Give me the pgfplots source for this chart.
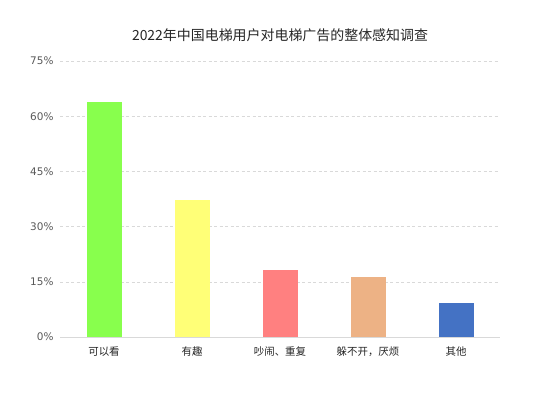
\documentclass[border=0pt]{standalone}
\usepackage{pgfplots}
\pgfplotsset{compat=1.18}
\usepackage{fontspec}
\setmainfont{DejaVu Sans}
\newfontfamily\cjk{Noto Sans CJK SC}
\definecolor{cg}{HTML}{88FF4D}
\definecolor{cy}{HTML}{FFFF77}
\definecolor{cr}{HTML}{FF8080}
\definecolor{co}{HTML}{EDB285}
\definecolor{cb}{HTML}{4472C4}
\definecolor{gridc}{HTML}{D9D9D9}
\begin{document}
\begin{tikzpicture}[x=1bp,y=1bp]
\useasboundingbox (0,0) rectangle (553,393);
\begin{axis}[
  at={(60bp,56bp)}, anchor=south west,
  scale only axis, width=440bp, height=276bp,
  xmin=-0.5, xmax=4.5, ymin=0, ymax=75,
  axis line style={draw=none},
  ytick={0,15,30,45,60,75},
  yticklabel={\pgfmathprintnumber{\tick}\%},
  /pgf/number format/assume math mode=true,
  yticklabel style={font=\fontsize{10.5}{12}\selectfont, text=black!65, xshift=-3bp},
  xtick={0,1,2,3,4},
  xticklabels={可以看,有趣,吵闹、重复,躲不开，厌烦,其他},
  xticklabel style={font=\cjk\fontsize{10.5}{12}\selectfont, text=black!85, yshift=-6bp},
  major tick length=0pt,
  ymajorgrids, grid style={gridc, dash pattern=on 3bp off 2.5bp, line width=0.6pt},
  title={\cjk\fontsize{14}{16}\selectfont 2022年中国电梯用户对电梯广告的整体感知调查},
  title style={at={(0.5,1)}, yshift=10bp, text=black!85},
  bar width=35bp,
  clip=false,
]
\draw[gridc, line width=0.8pt] (axis cs:-0.5,0) -- (axis cs:4.5,0);
\addplot[ybar, fill=cg, draw=none, bar shift=0pt] coordinates {(0,63.9)};
\addplot[ybar, fill=cy, draw=none, bar shift=0pt] coordinates {(1,37.2)};
\addplot[ybar, fill=cr, draw=none, bar shift=0pt] coordinates {(2,18.2)};
\addplot[ybar, fill=co, draw=none, bar shift=0pt] coordinates {(3,16.3)};
\addplot[ybar, fill=cb, draw=none, bar shift=0pt] coordinates {(4,9.2)};
\end{axis}
\end{tikzpicture}
\end{document}
